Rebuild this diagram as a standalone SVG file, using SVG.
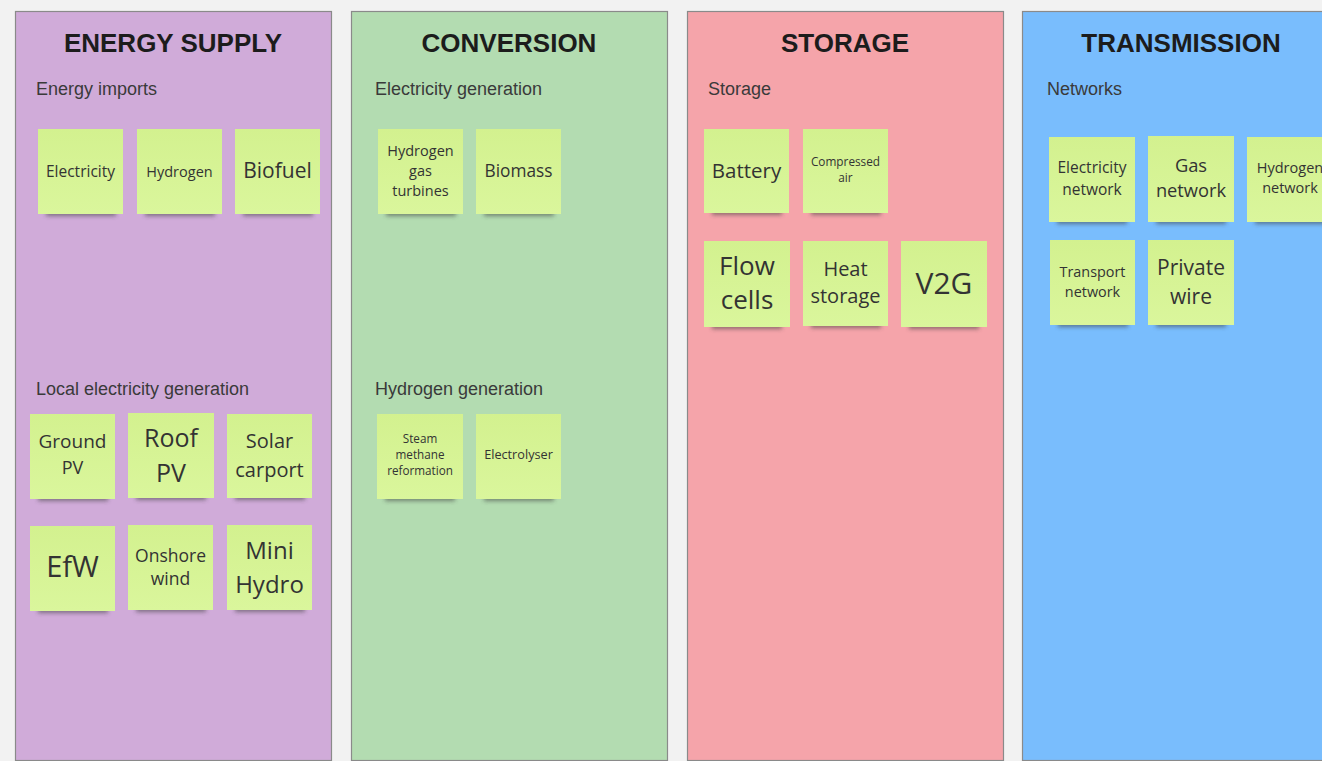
<svg xmlns="http://www.w3.org/2000/svg" width="1322" height="761" viewBox="0 0 1322 761">
<defs>
<linearGradient id="ng" x1="0" y1="0" x2="0" y2="1">
<stop offset="0" stop-color="#d3f18f"/>
<stop offset="1" stop-color="#daf69c"/>
</linearGradient>
<filter id="sh" x="-20%" y="-100%" width="140%" height="300%">
<feGaussianBlur stdDeviation="2"/>
</filter>
</defs>
<style>
.panel{stroke:#8a8a8a;stroke-width:1.2}
.title{font-family:"Liberation Sans",Arial,sans-serif;font-weight:bold;font-size:26px;fill:#1c1c1c;text-anchor:middle}
.sub{font-family:"Liberation Sans",Arial,sans-serif;font-size:18px;fill:#3a3a3a}
.note{fill:url(#ng)}
.shadow{fill:#3a3a3a;opacity:0.55;filter:url(#sh)}
.t{font-family:"Open Sans","Noto Sans",sans-serif;fill:#333;text-anchor:middle}
</style>
<rect x="0" y="0" width="1322" height="761" fill="#f2f2f2"/>

<g id="panel-energy-supply">
<rect class="panel" x="15.5" y="11.5" width="316" height="749" fill="#d0abd9"/>
<text class="title" x="173" y="52">ENERGY SUPPLY</text>
<text class="sub" x="36" y="95">Energy imports</text>
<text class="sub" x="36" y="395">Local electricity generation</text>
</g>
<g id="panel-conversion">
<rect class="panel" x="351.5" y="11.5" width="316" height="749" fill="#b3dcb1"/>
<text class="title" x="509" y="52">CONVERSION</text>
<text class="sub" x="375" y="95">Electricity generation</text>
<text class="sub" x="375" y="395">Hydrogen generation</text>
</g>
<g id="panel-storage">
<rect class="panel" x="687.5" y="11.5" width="316" height="749" fill="#f5a4aa"/>
<text class="title" x="845" y="52">STORAGE</text>
<text class="sub" x="708" y="95">Storage</text>
</g>
<g id="panel-transmission">
<rect class="panel" x="1022.5" y="11.5" width="316" height="749" fill="#79bdfd"/>
<text class="title" x="1181" y="52">TRANSMISSION</text>
<text class="sub" x="1047" y="95">Networks</text>
</g>

<g id="connectors"></g>

<g id="n-electricity"><rect class="shadow" x="46" y="210" width="70" height="6"/><rect class="note" x="38" y="129" width="85" height="85"/><text class="t" x="80.5" y="177" font-size="15.5">Electricity</text></g>
<g id="n-hydrogen"><rect class="shadow" x="145" y="210" width="70" height="6"/><rect class="note" x="137" y="129" width="85" height="85"/><text class="t" x="179.5" y="177" font-size="14.5">Hydrogen</text></g>
<g id="n-biofuel"><rect class="shadow" x="243" y="210" width="70" height="6"/><rect class="note" x="235" y="129" width="85" height="85"/><text class="t" x="277.5" y="178" font-size="21">Biofuel</text></g>

<g id="n-ground-pv"><rect class="shadow" x="38" y="495" width="70" height="6"/><rect class="note" x="30" y="414" width="85" height="85"/><text class="t" x="72.5" font-size="19"><tspan x="72.5" y="448">Ground</tspan><tspan x="72.5" y="474" font-size="18">PV</tspan></text></g>
<g id="n-roof-pv"><rect class="shadow" x="136" y="494" width="70" height="6"/><rect class="note" x="128" y="413" width="86" height="85"/><text class="t" x="171" font-size="25"><tspan x="171" y="447">Roof</tspan><tspan x="171" y="482">PV</tspan></text></g>
<g id="n-solar-carport"><rect class="shadow" x="235" y="494" width="70" height="6"/><rect class="note" x="227" y="414" width="85" height="84"/><text class="t" x="269.5" font-size="20"><tspan x="269.5" y="448">Solar</tspan><tspan x="269.5" y="477">carport</tspan></text></g>
<g id="n-efw"><rect class="shadow" x="38" y="607" width="70" height="6"/><rect class="note" x="30" y="526" width="85" height="85"/><text class="t" x="72.5" y="577" font-size="29">EfW</text></g>
<g id="n-onshore-wind"><rect class="shadow" x="136" y="606" width="70" height="6"/><rect class="note" x="128" y="525" width="85" height="85"/><text class="t" x="170.5" font-size="17.5"><tspan x="170.5" y="562">Onshore</tspan><tspan x="170.5" y="585">wind</tspan></text></g>
<g id="n-mini-hydro"><rect class="shadow" x="235" y="606" width="70" height="6"/><rect class="note" x="227" y="525" width="85" height="85"/><text class="t" x="269.5" font-size="24"><tspan x="269.5" y="559">Mini</tspan><tspan x="269.5" y="593">Hydro</tspan></text></g>

<g id="n-hydrogen-gas-turbines"><rect class="shadow" x="386" y="210" width="70" height="6"/><rect class="note" x="378" y="129" width="85" height="85"/><text class="t" x="420.5" font-size="14.5"><tspan x="420.5" y="156">Hydrogen</tspan><tspan x="420.5" y="176">gas</tspan><tspan x="420.5" y="196">turbines</tspan></text></g>
<g id="n-biomass"><rect class="shadow" x="484" y="210" width="70" height="6"/><rect class="note" x="476" y="129" width="85" height="85"/><text class="t" x="518.5" y="177" font-size="17.3">Biomass</text></g>
<g id="n-steam-methane-reformation"><rect class="shadow" x="385" y="495" width="70" height="6"/><rect class="note" x="377" y="414" width="86" height="85"/><text class="t" x="420" font-size="11.7"><tspan x="420" y="443">Steam</tspan><tspan x="420" y="459">methane</tspan><tspan x="420" y="475">reformation</tspan></text></g>
<g id="n-electrolyser"><rect class="shadow" x="484" y="495" width="70" height="6"/><rect class="note" x="476" y="414" width="85" height="85"/><text class="t" x="518.5" y="459" font-size="12.7">Electrolyser</text></g>

<g id="n-battery"><rect class="shadow" x="712" y="209" width="70" height="6"/><rect class="note" x="704" y="129" width="85" height="84"/><text class="t" x="746.5" y="178" font-size="20.5">Battery</text></g>
<g id="n-compressed-air"><rect class="shadow" x="811" y="209" width="70" height="6"/><rect class="note" x="803" y="129" width="85" height="84"/><text class="t" x="845.5" font-size="11.8"><tspan x="845.5" y="166">Compressed</tspan><tspan x="845.5" y="182">air</tspan></text></g>
<g id="n-flow-cells"><rect class="shadow" x="712" y="323" width="70" height="6"/><rect class="note" x="704" y="241" width="86" height="86"/><text class="t" x="747" font-size="26"><tspan x="747" y="275">Flow</tspan><tspan x="747" y="309">cells</tspan></text></g>
<g id="n-heat-storage"><rect class="shadow" x="811" y="322" width="70" height="6"/><rect class="note" x="803" y="241" width="85" height="85"/><text class="t" x="845.5" font-size="20"><tspan x="845.5" y="276">Heat</tspan><tspan x="845.5" y="303">storage</tspan></text></g>
<g id="n-v2g"><rect class="shadow" x="909" y="323" width="70" height="6"/><rect class="note" x="901" y="241" width="86" height="86"/><text class="t" x="944" y="294" font-size="30">V2G</text></g>

<g id="n-electricity-network"><rect class="shadow" x="1057" y="218" width="70" height="6"/><rect class="note" x="1049" y="137" width="86" height="85"/><text class="t" x="1092" font-size="15.5"><tspan x="1092" y="173">Electricity</tspan><tspan x="1092" y="195">network</tspan></text></g>
<g id="n-gas-network"><rect class="shadow" x="1156" y="218" width="70" height="6"/><rect class="note" x="1148" y="136" width="86" height="86"/><text class="t" x="1191" font-size="18.3"><tspan x="1191" y="172">Gas</tspan><tspan x="1191" y="197">network</tspan></text></g>
<g id="n-hydrogen-network"><rect class="shadow" x="1255" y="218" width="70" height="6"/><rect class="note" x="1247" y="137" width="86" height="85"/><text class="t" x="1290" font-size="14.5"><tspan x="1290" y="173">Hydrogen</tspan><tspan x="1290" y="193">network</tspan></text></g>
<g id="n-transport-network"><rect class="shadow" x="1058" y="321" width="70" height="6"/><rect class="note" x="1050" y="240" width="85" height="85"/><text class="t" x="1092.5" font-size="14.4"><tspan x="1092.5" y="277">Transport</tspan><tspan x="1092.5" y="297">network</tspan></text></g>
<g id="n-private-wire"><rect class="shadow" x="1156" y="321" width="70" height="6"/><rect class="note" x="1148" y="240" width="86" height="85"/><text class="t" x="1191" font-size="21"><tspan x="1191" y="275">Private</tspan><tspan x="1191" y="304">wire</tspan></text></g>
</svg>
